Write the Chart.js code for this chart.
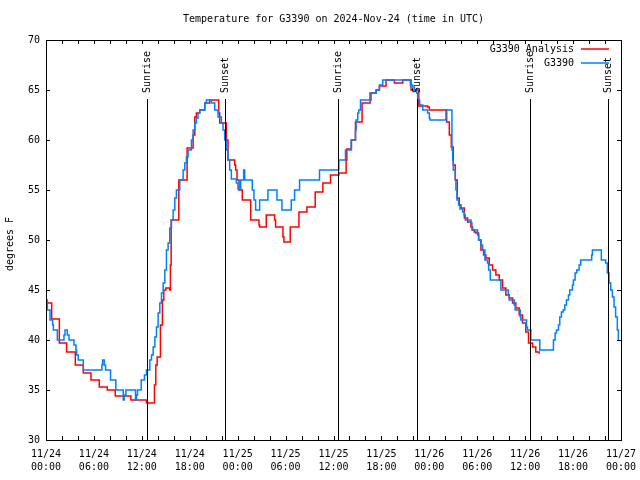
<!DOCTYPE html>
<html>
<head>
<meta charset="utf-8">
<script src="https://cdn.jsdelivr.net/npm/chart.js@4"></script>
<style>
  html, body { margin: 0; padding: 0; background: #ffffff; }
  canvas { display: block; }
</style>
</head>
<body>
<canvas id="c" width="640" height="480"></canvas>
<script>
// ---- DATA ----
const titleText = 'Temperature for G3390 on 2024-Nov-24 (time in UTC)';
const yAxisLabel = 'degrees F';
const seriesNames = ['G3390 Analysis', 'G3390'];

// tick labels (every 6 hours from 11/24 00:00 to 11/27 00:00)
const xTickDates = ['11/24','11/24','11/24','11/24','11/25','11/25','11/25','11/25','11/26','11/26','11/26','11/26','11/27'];
const xTickTimes = ['00:00','06:00','12:00','18:00','00:00','06:00','12:00','18:00','00:00','06:00','12:00','18:00','00:00'];

// station observations: hours since 11/24 00:00 UTC, and temperature (F)
const obsHours = [0.0,0.17,0.5,0.83,0.92,1.42,2.25,2.38,2.67,2.88,3.5,3.75,3.83,4.04,4.67,7.0,7.08,7.29,7.46,8.08,8.75,9.67,9.79,10.0,11.21,11.33,11.46,11.92,12.33,12.58,13.0,13.21,13.42,13.63,13.83,14.04,14.25,14.46,14.67,14.88,15.08,15.29,15.5,15.71,15.92,16.13,16.33,16.75,17.17,17.38,17.58,17.79,18.21,18.42,18.63,18.83,19.04,19.25,19.88,20.08,20.71,21.13,21.54,21.96,22.17,22.38,22.58,22.79,23.0,23.21,23.83,24.04,24.38,24.75,24.88,25.83,26.04,26.25,26.75,27.79,28.92,29.54,30.71,31.13,31.75,34.25,36.67,37.5,38.21,38.75,38.83,39.04,39.17,39.38,40.71,41.33,41.75,42.17,45.63,45.92,46.13,46.42,46.54,46.79,47.17,47.79,48.0,48.08,50.08,50.83,50.92,51.0,51.25,51.33,51.46,51.67,51.83,52.17,52.38,52.5,53.21,53.33,54.04,54.17,54.46,54.67,54.96,55.29,55.42,55.63,56.96,57.88,58.0,58.63,58.75,59.38,59.46,60.17,60.29,60.71,61.83,63.54,63.75,63.92,64.17,64.33,64.54,64.75,64.96,65.17,65.42,65.58,65.92,66.04,66.25,66.46,66.75,66.96,68.33,68.42,69.54,70.08,70.29,70.5,70.71,70.92,71.13,71.33,71.54,71.67,71.75];
const obsTemps = [44,43,42,41.5,41,40,40.5,41,40.5,40,39.5,39,38.5,38,37,37.5,38,37.5,37,36,35,34,34.5,35,34,34.5,35,36,36.5,37,38,38.5,39.3,40.3,41.3,42.7,43.7,44.7,45.7,47,49,49.7,51.2,52,53,54.2,55,56,57,57.7,58.3,59,60,61,61.7,62.2,62.7,63,63.7,64,63.7,63,62.3,61.7,61,60,59,58,57,56.1,55.7,55.1,56,57,56,55,54,53,54,55,54,53,54,55,56,57,58,59,60,61,62,62.7,63,64,64.7,65,65.5,66,65.5,65.3,65,64.7,64,63.5,63,62.7,62.2,62,63,59,58,57,56,55,54,53.5,53.1,52.8,52.5,52,51.7,51,50.5,50,49.5,49,48,47.7,47,46,45,44.5,44,43.5,43,42.3,42,41.3,41,40,39,40,40.7,41,41.5,42.3,42.8,43,43.5,44,44.5,45,45.5,46,46.7,47,47.5,48,48.5,49,48,47.7,46.7,45.7,45,44.3,43.3,42.3,41,40,40];

// analysis: hours since 11/24 00:00 UTC, and temperature (F)
const anaHours = [0,0.71,1.67,2.58,3.67,4.67,5.63,6.67,7.67,8.67,10.63,12.58,13.58,13.75,13.92,14.33,14.58,14.75,15.0,15.5,15.58,15.67,16.63,17.67,18.42,18.63,18.83,19.25,19.88,20.5,21.63,21.75,22.58,22.79,23.63,23.75,23.92,24.17,24.58,25.63,26.67,26.75,27.58,28.63,28.75,29.67,29.79,30.58,31.67,32.67,33.71,34.67,35.63,36.67,37.58,37.67,38.25,38.75,39.58,40.58,41.33,41.75,42.58,43.63,44.67,45.71,46.67,47.79,48.0,50.17,50.5,50.75,51.0,51.25,51.5,51.75,51.96,52.38,52.79,53.21,53.42,53.63,53.83,54.17,54.46,54.79,55.08,55.5,55.92,56.33,56.75,57.17,57.58,58.0,58.42,58.83,59.25,59.67,60.08,60.42,60.92,61.33,61.75,61.83];
const anaTemps = [43.7,42.1,39.7,38.8,37.5,36.7,36,35.3,35,34.4,34,33.7,35.5,37.5,38.3,41.5,44,45,45.2,45,47.5,52,56,59.2,60.5,62.3,62.7,63,63.7,64,62.7,61.7,60,58,57.5,57,56,55,54,52,51.5,51.3,52.5,52,51.3,50.3,49.8,51.3,52.8,53.3,54.8,55.7,56.5,56.7,58,59.1,60,61.8,63.7,64.7,65,65.4,66,65.7,66,65,63.4,63.3,63,61.8,60.5,59.3,57.5,56,54.2,53.5,53.2,52.2,51.8,51.3,51,50.8,50.7,50,49,48.5,48.2,47.5,47,46.5,46,45.2,44.5,44.2,43.7,43.2,42.5,41.7,40.8,39.7,39.3,38.8,38.7,38.7];

// sunrise / sunset events (hours since 11/24 00:00 UTC)
const eventHours = [12.66, 22.44, 36.54, 46.41, 60.56, 70.41];
const eventNames = ['Sunrise','Sunset','Sunrise','Sunset','Sunrise','Sunset'];

// ---- STYLE ----
const FONT = '"DejaVu Sans Mono", "Liberation Mono", monospace';
const RED = '#ff0000';
const BLUE = '#0080ff';

function pairs(xs, ys) { return xs.map((x, i) => ({ x: x, y: ys[i] })); }

const overlay = {
  id: 'overlay',
  beforeDraw(chart) {
    const ctx = chart.ctx;
    ctx.save();
    ctx.fillStyle = '#ffffff';
    ctx.fillRect(0, 0, chart.width, chart.height);
    ctx.restore();
  },
  afterDatasetsDraw(chart) {
    const ctx = chart.ctx;
    const a = chart.chartArea;
    const xs = chart.scales.x, ys = chart.scales.y;
    ctx.save();
    ctx.strokeStyle = '#000';
    ctx.lineWidth = 1;
    // sunrise / sunset lines
    ctx.font = '10px ' + FONT;
    ctx.fillStyle = '#000';
    eventHours.forEach((h, i) => {
      const px = Math.round(xs.getPixelForValue(h)) + 0.5;
      ctx.beginPath();
      ctx.moveTo(px, 99);
      ctx.lineTo(px, a.bottom);
      ctx.stroke();
      ctx.save();
      ctx.translate(px, 93);
      ctx.rotate(-Math.PI / 2);
      ctx.textAlign = 'left';
      ctx.textBaseline = 'middle';
      ctx.fillText(eventNames[i], 0, 0);
      ctx.restore();
    });
    // border
    ctx.strokeRect(Math.round(a.left) + 0.5, Math.round(a.top) + 0.5,
                   Math.round(a.right - a.left), Math.round(a.bottom - a.top));
    // tick marks (inward, mirrored)
    ctx.beginPath();
    for (let h = 0; h <= 72; h += 2) {
      const px = Math.round(xs.getPixelForValue(h)) + 0.5;
      ctx.moveTo(px, a.bottom); ctx.lineTo(px, a.bottom - 4);
      ctx.moveTo(px, a.top); ctx.lineTo(px, a.top + 4);
    }
    for (let v = 30; v <= 70; v += 5) {
      const py = Math.round(ys.getPixelForValue(v)) + 0.5;
      ctx.moveTo(a.left, py); ctx.lineTo(a.left + 4, py);
      ctx.moveTo(a.right, py); ctx.lineTo(a.right - 4, py);
    }
    ctx.stroke();
    // legend
    ctx.font = '10px ' + FONT;
    ctx.textAlign = 'right';
    ctx.textBaseline = 'middle';
    ctx.fillStyle = '#000';
    const legColors = [RED, BLUE];
    seriesNames.forEach((n, i) => {
      const ly = 49 + i * 14;
      ctx.fillText(n, 574, ly);
      ctx.strokeStyle = legColors[i];
      ctx.lineWidth = 1.5;
      ctx.beginPath();
      ctx.moveTo(581, ly);
      ctx.lineTo(609, ly);
      ctx.stroke();
    });
    // title (centred over the plot area)
    ctx.fillStyle = '#000';
    ctx.textAlign = 'center';
    ctx.fillText(titleText, (a.left + a.right) / 2, 19);
    // y axis label
    ctx.save();
    ctx.translate(10, 244);
    ctx.rotate(-Math.PI / 2);
    ctx.textAlign = 'center';
    ctx.textBaseline = 'middle';
    ctx.fillText(yAxisLabel, 0, 0);
    ctx.restore();
    ctx.restore();
  }
};

new Chart(document.getElementById('c'), {
  type: 'line',
  data: {
    datasets: [
      {
        label: seriesNames[0],
        data: pairs(anaHours, anaTemps),
        borderColor: RED,
        backgroundColor: RED,
        borderWidth: 1.5,
        stepped: 'before',
        pointRadius: 0,
        fill: false,
        order: 2
      },
      {
        label: seriesNames[1],
        data: pairs(obsHours, obsTemps),
        borderColor: BLUE,
        backgroundColor: BLUE,
        borderWidth: 1.5,
        stepped: 'before',
        pointRadius: 0,
        fill: false,
        order: 1
      }
    ]
  },
  options: {
    responsive: false,
    animation: false,
    events: [],
    layout: { padding: { top: 40, right: 19, left: 0, bottom: 0 } },
    plugins: {
      legend: { display: false },
      title: { display: false },
      tooltip: { enabled: false }
    },
    scales: {
      x: {
        type: 'linear',
        min: 0,
        max: 72,
        grid: { display: false, drawTicks: false },
        border: { display: false },
        ticks: {
          stepSize: 6,
          autoSkip: false,
          maxRotation: 0,
          minRotation: 0,
          padding: 8,
          color: '#000',
          font: { family: FONT, size: 10, lineHeight: 1.3 },
          callback: function (value) {
            const i = Math.round(value / 6);
            return [xTickDates[i], xTickTimes[i]];
          }
        },
        afterFit: function (scale) {
          scale.height = 40;
          scale.paddingLeft = 0;
          scale.paddingRight = 0;
        }
      },
      y: {
        min: 30,
        max: 70,
        grid: { display: false, drawTicks: false },
        border: { display: false },
        ticks: {
          stepSize: 5,
          padding: 6,
          color: '#000',
          font: { family: FONT, size: 10 }
        },
        afterFit: function (scale) {
          scale.width = 46;
          scale.paddingTop = 0;
          scale.paddingBottom = 0;
        }
      }
    }
  },
  plugins: [overlay]
});
</script>
</body>
</html>
